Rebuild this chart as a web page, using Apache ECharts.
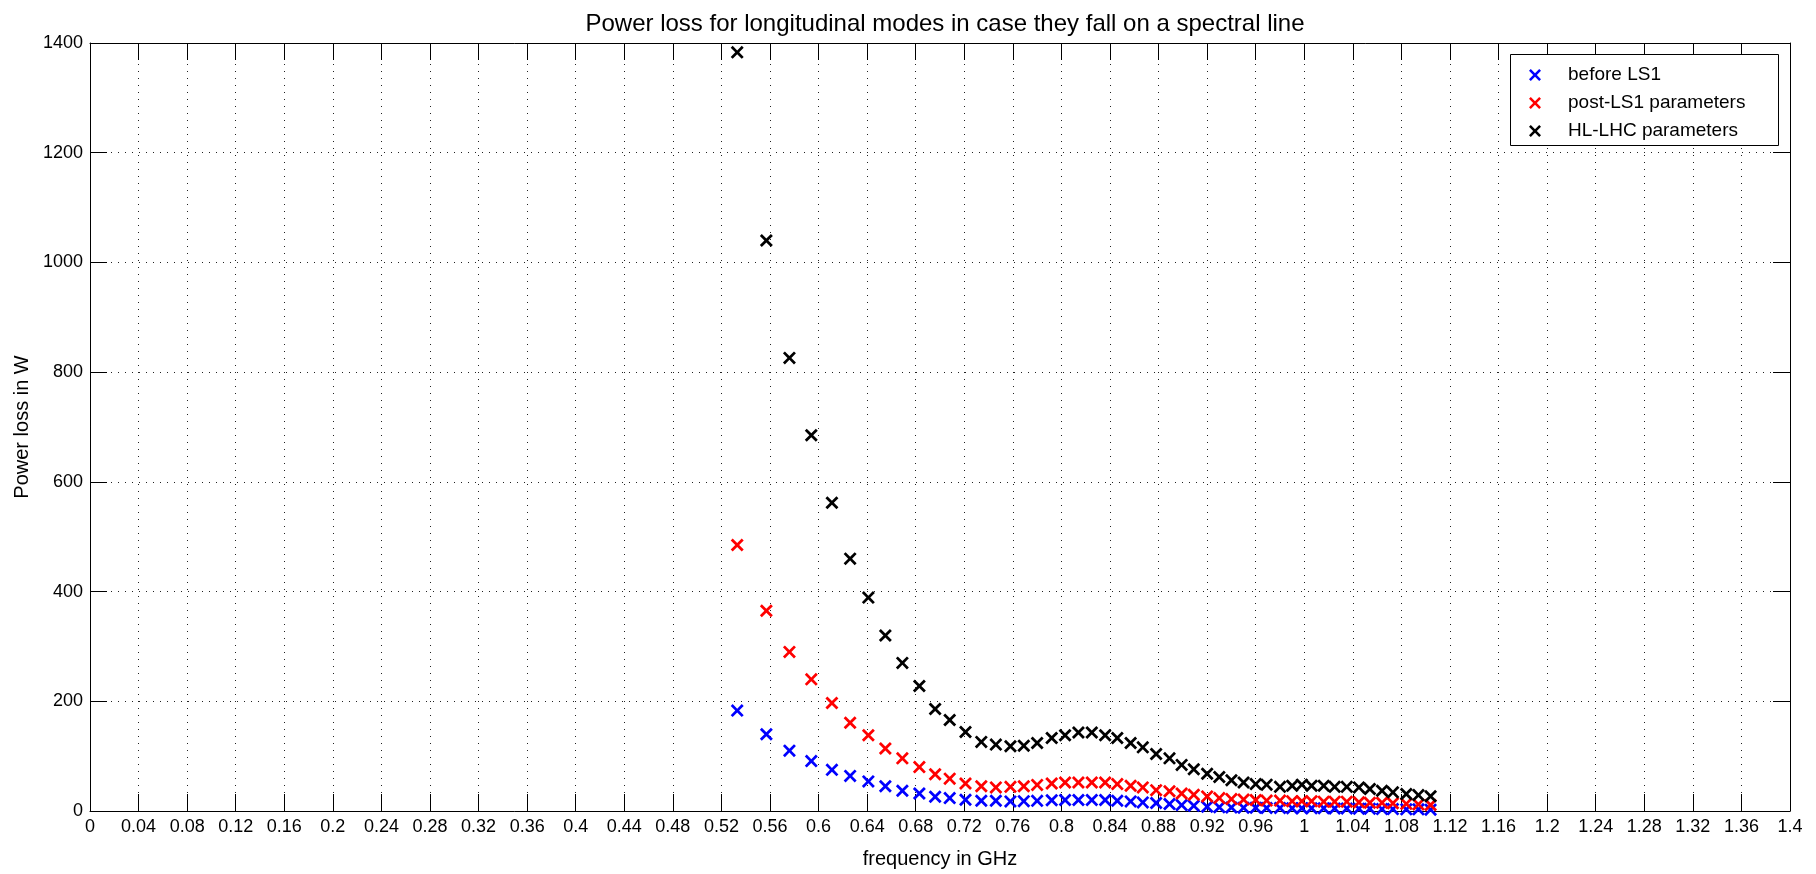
<!DOCTYPE html>
<html>
<head>
<meta charset="utf-8">
<script src="https://cdn.jsdelivr.net/npm/echarts@6/dist/echarts.min.js"></script>
<style>
html,body{margin:0;padding:0;background:#fff;}
#chart{width:1816px;height:874px;}
</style>
</head>
<body>
<div id="chart"></div>
<script>
// Frequencies of the longitudinal modes (GHz)
const freq = [0.533,0.557,0.576,0.594,0.611,0.626,0.641,0.655,0.669,0.683,
  0.696,0.708,0.721,0.734,0.746,0.758,0.769,0.780,0.792,0.803,
  0.814,0.825,0.836,0.846,0.857,0.867,0.878,0.889,0.899,0.909,
  0.920,0.930,0.940,0.950,0.960,0.969,0.980,0.990,0.998,1.006,
  1.016,1.025,1.035,1.045,1.054,1.064,1.073,1.084,1.094,1.104];
// Power loss (W)
const beforeLS1 = [183,140,110,91,75,64,54,45,37,32,
  26,23.5,20.5,18.6,18.6,17.5,18,18.5,19.5,20,
  20,20,20,18.6,17.5,15.7,14.5,12.7,10.8,9.6,
  7.8,6.7,6.5,6,6,5.5,5.5,5,5,5,
  5,4.5,4.5,4,4,3.5,3.5,3,3,2.5];
const postLS1 = [485,365,290,240,197,161,138,114,96,80,
  67,59,50,45,43,44,45,47.6,50,52,
  52,52,52,49,46,43,38,36,32,29.5,
  26.6,23.5,21.7,21,20,19,19,18,18,18,
  17,17,17,16,15,15,14,13,12,11];
const hlLHC = [1383,1040,826,685,562,460,389,320,270,228,
  186,166,144,126,121,118,119,124,133,138,
  143,143,138,133,124,116,104,96,84,76,
  68,62,56,52,49,48,44,46,48,46,
  46,44,44,43,40,37,34,31,29,27];
const seriesNames = ['before LS1','post-LS1 parameters','HL-LHC parameters'];
const seriesColors = ['#0000ff','#ff0000','#000000'];
const titleText = 'Power loss for longitudinal modes in case they fall on a spectral line';
const xName = 'frequency in GHz';
const yName = 'Power loss in W';

const FONT = '"Liberation Sans", Arial, Helvetica, sans-serif';
const XMARK = 'path://M0,18 L18,0 L60,42 L102,0 L120,18 L78,60 L120,102 L102,120 L60,78 L18,120 L0,102 L42,60 Z';

const chart = echarts.init(document.getElementById('chart'), null, {renderer:'canvas'});
const seriesData = [beforeLS1, postLS1, hlLHC];

const tickStyle = {show:true, inside:true, length:17, lineStyle:{color:'#000', width:1}};
const axisLineStyle = {show:true, onZero:false, lineStyle:{color:'#000', width:1}};
const gridLine = {show:true, lineStyle:{color:'#222', width:1, type:[1,6]}};
const plainNum = v => String(Math.round(v*1000)/1000);

const option = {
  backgroundColor:'#fff',
  animation:false,
  title:{
    text:titleText, left:940, top:7, textAlign:'center',
    textStyle:{fontFamily:FONT, fontSize:24, fontWeight:'normal', color:'#000'}
  },
  grid:{left:90, right:26, top:43, bottom:57, containLabel:false},
  xAxis:[{
    type:'value', min:0, max:1.4, interval:0.04, position:'bottom',
    name:xName, nameLocation:'middle', nameGap:38,
    nameTextStyle:{fontFamily:FONT, fontSize:20, color:'#000'},
    axisLine:axisLineStyle, axisTick:tickStyle,
    axisLabel:{show:true, fontFamily:FONT, fontSize:18, color:'#000', margin:7, formatter:plainNum, showMaxLabel:true, showMinLabel:true},
    splitLine:gridLine
  },{
    type:'value', min:0, max:1.4, interval:0.04, position:'top',
    axisLine:axisLineStyle, axisTick:tickStyle,
    axisLabel:{show:false}, splitLine:{show:false}
  }],
  yAxis:[{
    type:'value', min:0, max:1400, interval:200, position:'left',
    name:yName, nameLocation:'middle', nameGap:56, nameRotate:90,
    nameTextStyle:{fontFamily:FONT, fontSize:20, color:'#000'},
    axisLine:axisLineStyle, axisTick:tickStyle,
    axisLabel:{show:true, fontFamily:FONT, fontSize:18, color:'#000', margin:7, formatter:plainNum},
    splitLine:gridLine
  },{
    type:'value', min:0, max:1400, interval:200, position:'right',
    axisLine:axisLineStyle, axisTick:tickStyle,
    axisLabel:{show:false}, splitLine:{show:false}
  }],
  legend:{
    orient:'vertical', left:1524, top:60, z:60,
    itemWidth:56, itemHeight:12, itemGap:8,
    data:seriesNames,
    textStyle:{fontFamily:FONT, fontSize:19, color:'#000', lineHeight:20}
  },
  graphic:{elements:[{
    type:'rect', z:50, shape:{x:1510.5, y:54.5, width:268, height:91},
    style:{fill:'#fff', stroke:'#000', lineWidth:1}
  }]},
  series: seriesNames.map((name,k)=>({
    name:name, type:'scatter', xAxisIndex:0, yAxisIndex:0,
    symbol:XMARK, symbolSize:13,
    itemStyle:{color:seriesColors[k], opacity:1},
    data: freq.map((f,i)=>[f, seriesData[k][i]])
  }))
};
chart.setOption(option);
</script>
</body>
</html>
